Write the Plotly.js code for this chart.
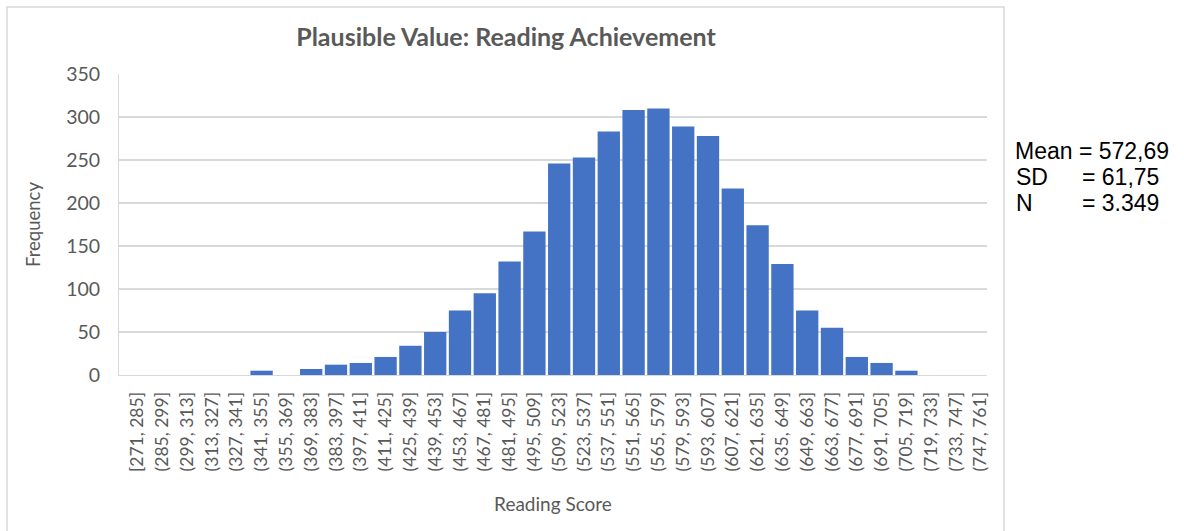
<!DOCTYPE html>
<html>
<head>
<meta charset="utf-8">
<script src="https://cdn.plot.ly/plotly-3.0.1.min.js"></script>
<style>
  html, body { margin: 0; padding: 0; background: #ffffff; }
  #chart { width: 1184px; height: 531px; }
</style>
</head>
<body>
<div id="chart"></div>
<script>
// ---- data ----
const categories = [
  "[271, 285]", "(285, 299]", "(299, 313]", "(313, 327]", "(327, 341]",
  "(341, 355]", "(355, 369]", "(369, 383]", "(383, 397]", "(397, 411]",
  "(411, 425]", "(425, 439]", "(439, 453]", "(453, 467]", "(467, 481]",
  "(481, 495]", "(495, 509]", "(509, 523]", "(523, 537]", "(537, 551]",
  "(551, 565]", "(565, 579]", "(579, 593]", "(593, 607]", "(607, 621]",
  "(621, 635]", "(635, 649]", "(649, 663]", "(663, 677]", "(677, 691]",
  "(691, 705]", "(705, 719]", "(719, 733]", "(733, 747]", "(747, 761]"
];
const frequencies = [
  0, 0, 0, 0, 0,
  5, 0, 7, 12, 14,
  21, 34, 50, 75, 95,
  132, 167, 246, 253, 283,
  308, 310, 289, 278, 217,
  174, 129, 75, 55, 21,
  14, 5, 0, 0, 0
];
const yTicks = [0, 50, 100, 150, 200, 250, 300, 350];
const chartTitle = "Plausible Value: Reading Achievement";
const xTitle = "Reading Score";
const yTitle = "Frequency";
const statLines = [
  ["Mean", "= 572,69"],
  ["SD", "= 61,75"],
  ["N", "= 3.349"]
];

// ---- layout helpers (pixel -> paper) ----
const W = 1184, H = 531;
const M = { l: 119, r: 197, t: 74, b: 156 };
const pw = W - M.l - M.r, ph = H - M.t - M.b;
const px = x => (x - M.l) / pw;
const py = y => (H - M.b - y) / ph;

const textColor = "#595959";
const annotations = [];
const statFont = { family: "Liberation Sans, Arial, sans-serif", size: 23, color: "#000000" };
const statY = [151, 177, 203];
statLines.forEach((s, i) => {
  if (s[0] === "Mean") {
    annotations.push({ xref: "paper", yref: "paper", x: px(1013), y: py(statY[i]),
      xanchor: "left", yanchor: "middle", showarrow: false,
      text: s[0] + " " + s[1], font: statFont });
  } else {
    annotations.push({ xref: "paper", yref: "paper", x: px(1014), y: py(statY[i]),
      xanchor: "left", yanchor: "middle", showarrow: false, text: s[0], font: statFont });
    annotations.push({ xref: "paper", yref: "paper", x: px(1080), y: py(statY[i]),
      xanchor: "left", yanchor: "middle", showarrow: false, text: s[1], font: statFont });
  }
});

const trace = {
  type: "bar",
  x: categories,
  y: frequencies,
  marker: { color: "#4472C4", line: { color: "#ffffff", width: 0 } },
  hoverinfo: "x+y"
};

const layout = {
  width: W, height: H,
  margin: M,
  paper_bgcolor: "#ffffff",
  plot_bgcolor: "#ffffff",
  bargap: 0.1,
  showlegend: false,
  title: {
    text: "<b>" + chartTitle + "</b>",
    font: { family: "Lato, sans-serif", size: 25, color: textColor },
    x: px(506), xanchor: "center", xref: "paper",
    y: 1 - 37 / H, yanchor: "middle"
  },
  xaxis: {
    type: "category",
    tickangle: -90,
    tickfont: { family: "Lato, sans-serif", size: 17.5, color: textColor },
    ticks: "",
    ticklabelstandoff: 9,
    showline: true, linecolor: "#d9d9d9", linewidth: 1,
    showgrid: false,
    range: [-0.75, 34.25],
    automargin: true,
    title: { text: xTitle, font: { family: "Lato, sans-serif", size: 19, color: textColor }, standoff: 26 }
  },
  yaxis: {
    range: [0, 350],
    tickvals: yTicks,
    tickfont: { family: "Lato, sans-serif", size: 19.5, color: textColor },
    ticks: "",
    ticklabelstandoff: 14,
    showgrid: true, gridcolor: "#d9d9d9", gridwidth: 1.5,
    showline: true, linecolor: "#d9d9d9", linewidth: 1,
    zeroline: false,
    automargin: true,
    title: { text: yTitle, font: { family: "Lato, sans-serif", size: 18.5, color: textColor }, standoff: 20 }
  },
  shapes: [{
    type: "rect", xref: "paper", yref: "paper",
    x0: px(7), x1: px(1004), y0: py(560), y1: py(7),
    line: { color: "#d9d9d9", width: 1.5 }, fillcolor: "rgba(0,0,0,0)", layer: "below"
  }],
  annotations: annotations
};

Plotly.newPlot("chart", [trace], layout, { displayModeBar: false, staticPlot: true });
</script>
</body>
</html>
